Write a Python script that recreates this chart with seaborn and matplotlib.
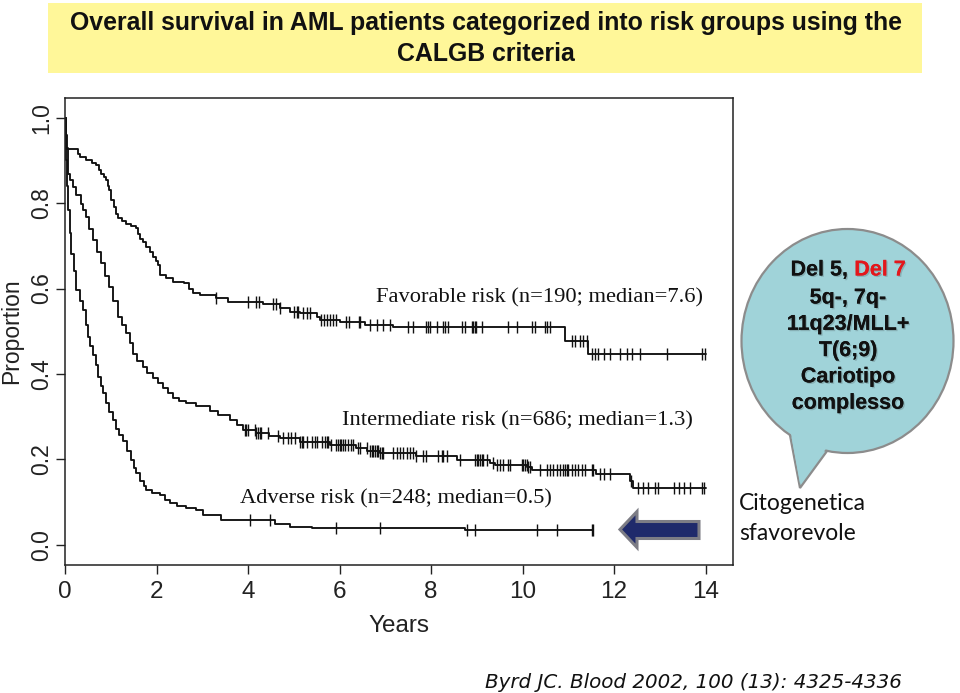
import numpy as np
import pandas as pd
import matplotlib
matplotlib.use("Agg")
import matplotlib.pyplot as plt
import seaborn as sns
from matplotlib.patches import Polygon, Ellipse, Rectangle
import matplotlib.patheffects as pe

# ---------------- data ----------------
fav_time = [0, 0.02, 0.04, 0.28, 0.32, 0.46, 0.60, 0.68, 0.74, 0.79, 0.85, 0.90, 0.94, 0.97,
            1.01, 1.08, 1.12, 1.16, 1.25, 1.34, 1.45, 1.56, 1.60, 1.63, 1.70, 1.78, 1.85, 1.92,
            1.98, 2.03, 2.07, 2.21, 2.36, 2.60, 2.72, 2.80, 2.94, 3.31, 3.56, 4.33, 4.69, 4.91,
            5.13, 5.50, 5.57, 6.00, 6.55, 7.17, 10.93, 11.44, 14.00]
fav_surv = [1.0, 0.96, 0.926, 0.915, 0.908, 0.90, 0.893, 0.889, 0.878, 0.869, 0.86, 0.854, 0.84, 0.83,
            0.807, 0.791, 0.775, 0.764, 0.758, 0.752, 0.747, 0.741, 0.728, 0.717, 0.708, 0.698, 0.686, 0.674,
            0.664, 0.655, 0.632, 0.624, 0.616, 0.612, 0.600, 0.590, 0.585, 0.577, 0.569, 0.564, 0.554, 0.546,
            0.542, 0.534, 0.526, 0.522, 0.515, 0.510, 0.478, 0.448, 0.448]
fav_censor = [3.31, 3.99, 4.18, 4.25, 4.54, 4.62, 4.69, 5.00, 5.07, 5.10, 5.20, 5.28, 5.35, 5.60, 5.66,
              5.72, 5.80, 5.86, 5.93, 6.14, 6.21, 6.43, 6.45, 6.66, 6.81, 6.95, 7.10, 7.50, 7.61, 7.90,
              7.94, 7.97, 8.12, 8.27, 8.30, 8.37, 8.67, 8.74, 8.89, 8.92, 8.96, 8.99, 9.11, 9.69, 9.87,
              10.20, 10.27, 10.49, 10.53, 10.60, 11.08, 11.15, 11.26, 11.33, 11.40, 11.51, 11.59, 11.66,
              11.77, 11.91, 12.13, 12.28, 12.39, 12.57, 13.16, 13.92, 13.99]

int_time = [0, 0.03, 0.06, 0.10, 0.17, 0.25, 0.35, 0.40, 0.46, 0.53, 0.61, 0.70, 0.79, 0.88, 0.97,
            1.06, 1.16, 1.25, 1.34, 1.41, 1.48, 1.58, 1.70, 1.80, 1.92, 2.03, 2.14, 2.25, 2.36, 2.50,
            2.65, 2.87, 3.16, 3.35, 3.60, 3.75, 3.89, 4.18, 4.45, 4.69, 5.13, 5.79, 6.37, 6.60, 6.88,
            7.68, 8.56, 9.29, 9.40, 10.10, 10.20, 11.60, 12.35, 12.42, 14.00]
int_surv = [1.0, 0.93, 0.869, 0.855, 0.838, 0.82, 0.799, 0.785, 0.768, 0.74, 0.713, 0.685, 0.659, 0.63, 0.604,
            0.57, 0.534, 0.515, 0.495, 0.472, 0.448, 0.43, 0.417, 0.403, 0.39, 0.378, 0.367, 0.355, 0.343, 0.336,
            0.331, 0.324, 0.314, 0.303, 0.292, 0.28, 0.269, 0.261, 0.255, 0.25, 0.242, 0.234, 0.226, 0.22, 0.214,
            0.207, 0.199, 0.191, 0.187, 0.182, 0.176, 0.166, 0.149, 0.133, 0.133]
int_censor = [3.93, 3.96, 4.00, 4.15, 4.18, 4.22, 4.26, 4.29, 4.44, 4.66, 4.77, 4.88, 4.95, 5.02, 5.13,
              5.17, 5.20, 5.28, 5.39, 5.46, 5.50, 5.61, 5.68, 5.72, 5.75, 5.82, 5.93, 5.97, 6.01, 6.04,
              6.08, 6.12, 6.19, 6.26, 6.30, 6.41, 6.44, 6.59, 6.66, 6.70, 6.74, 6.77, 6.81, 6.84, 6.88,
              6.92, 6.95, 7.17, 7.25, 7.32, 7.39, 7.47, 7.54, 7.61, 7.68, 7.83, 7.90, 8.16, 8.23, 8.27,
              8.34, 8.63, 8.96, 9.00, 9.03, 9.07, 9.11, 9.14, 9.22, 9.36, 9.44, 9.51, 9.58, 9.69, 9.73,
              9.98, 10.02, 10.05, 10.09, 10.13, 10.16, 10.38, 10.53, 10.60, 10.67, 10.75, 10.82, 10.89,
              10.93, 10.97, 11.00, 11.08, 11.15, 11.22, 11.30, 11.37, 11.51, 11.55, 11.70, 11.77, 11.91,
              12.38, 12.53, 12.64, 12.75, 12.90, 12.97, 13.30, 13.41, 13.52, 13.67, 13.92, 13.96]

adv_time = [0, 0.02, 0.04, 0.06, 0.10, 0.14, 0.20, 0.25, 0.32, 0.39, 0.45, 0.50, 0.55, 0.61, 0.67,
            0.72, 0.78, 0.83, 0.90, 0.97, 1.05, 1.12, 1.19, 1.26, 1.35, 1.45, 1.50, 1.56, 1.65, 1.72,
            1.78, 1.90, 2.07, 2.18, 2.29, 2.45, 2.65, 2.87, 3.02, 3.42, 4.60, 4.91, 5.39, 8.74, 11.55]
adv_surv = [1.0, 0.90, 0.84, 0.784, 0.73, 0.682, 0.64, 0.596, 0.57, 0.55, 0.515, 0.487, 0.465, 0.445, 0.42,
            0.394, 0.372, 0.355, 0.331, 0.31, 0.292, 0.272, 0.257, 0.243, 0.22, 0.199, 0.18, 0.168, 0.15, 0.138,
            0.129, 0.122, 0.117, 0.106, 0.098, 0.092, 0.086, 0.082, 0.069, 0.058, 0.05, 0.043, 0.04, 0.035, 0.035]
adv_censor = [4.04, 4.48, 5.93, 6.88, 8.78, 8.96, 10.31, 10.75, 11.51, 11.55]

group_labels = ["Favorable risk (n=190; median=7.6)",
                "Intermediate risk (n=686; median=1.3)",
                "Adverse risk (n=248; median=0.5)"]
x_ticks = [0, 2, 4, 6, 8, 10, 12, 14]
y_ticks = [0.0, 0.2, 0.4, 0.6, 0.8, 1.0]

title_lines = ["Overall survival in AML patients categorized into risk groups using the",
               "CALGB criteria"]
bubble_lines = ["5q-, 7q-", "11q23/MLL+", "T(6;9)", "Cariotipo", "complesso"]
side_lines = ["Citogenetica", "sfavorevole"]
citation = "Byrd JC. Blood 2002, 100 (13): 4325-4336"

# ---------------- figure ----------------
sns.set_theme(style="ticks")
plt.rcParams["font.family"] = ["Liberation Sans", "DejaVu Sans"]

fig = plt.figure(figsize=(9.6, 6.93), dpi=100)
ax = fig.add_axes([65 / 960, 1 - 565 / 693, (733 - 65) / 960, (565 - 98) / 693])
ax.set_facecolor("white")

curves = [(fav_time, fav_surv, fav_censor),
          (int_time, int_surv, int_censor),
          (adv_time, adv_surv, adv_censor)]

for (t, s, c), lab in zip(curves, group_labels):
    df = pd.DataFrame({"time": t, "surv": s})
    sns.lineplot(data=df, x="time", y="surv", ax=ax, color="#111111", linewidth=1.35,
                 drawstyle="steps-post", estimator=None, sort=False)
    t_arr = np.asarray(t)
    s_arr = np.asarray(s)
    idx = np.searchsorted(t_arr, np.asarray(c), side="right") - 1
    cdf = pd.DataFrame({"time": c, "surv": s_arr[idx]})
    sns.scatterplot(data=cdf, x="time", y="surv", ax=ax, marker="|", s=70,
                    color="#111111", linewidth=1.0, zorder=3)

# curve annotations
serif = ["Liberation Serif", "DejaVu Serif"]
ax.text(6.79, 0.578, group_labels[0], family=serif, fontsize=16.2, ha="left", va="center", color="#111")
ax.text(6.05, 0.290, group_labels[1], family=serif, fontsize=16.2, ha="left", va="center", color="#111")
ax.text(3.82, 0.108, group_labels[2], family=serif, fontsize=16.2, ha="left", va="center", color="#111")

ax.set_xlim(0, 14.6)
ax.set_ylim(-0.047, 1.046)
ax.set_xticks(x_ticks)
ax.set_xticklabels([str(v) for v in x_ticks], fontsize=17.5, color="#222")
ax.set_yticks(y_ticks)
ax.set_yticklabels([f"{v:.1f}" for v in y_ticks], rotation=90, va="center",
                   fontsize=16.5, color="#222")
ax.tick_params(axis="both", direction="out", length=6.5, width=1.0, color="#222")
ax.tick_params(axis="x", pad=5)
ax.tick_params(axis="y", pad=2)
ax.set_xlabel("Years", fontsize=17.5, color="#222", labelpad=9)
ax.set_ylabel("Proportion", fontsize=16.5, color="#222", labelpad=5)
for sp in ax.spines.values():
    sp.set_visible(True)
    sp.set_color("#222")
    sp.set_linewidth(1.1)

# ---------------- overlay (pixel coordinates) ----------------
ov = fig.add_axes([0, 0, 1, 1], zorder=5)
ov.set_xlim(0, 960)
ov.set_ylim(693, 0)
ov.axis("off")
ov.patch.set_alpha(0)

ov.add_patch(Rectangle((48, 3), 874, 70, facecolor="#FFF799", edgecolor="none", zorder=1))
ov.text(486, 23, title_lines[0], ha="center", va="center", fontsize=17.9, fontweight="bold", color="#111")
ov.text(486, 54, title_lines[1], ha="center", va="center", fontsize=17.9, fontweight="bold", color="#111")

# speech bubble
bub_fc = "#A0D3D9"
bub_ec = "#8C8C8C"
tail = [(789, 430), (800, 488), (830, 447), (812, 420)]
ov.add_patch(Polygon(tail, closed=True, facecolor=bub_fc, edgecolor=bub_ec, lw=1.6, zorder=2))
ov.add_patch(Ellipse((847.5, 341), 212, 224, facecolor=bub_fc, edgecolor=bub_ec, lw=1.6, zorder=3))
ov.add_patch(Polygon([(790.5, 431), (800, 484), (828, 446), (812, 420)], closed=True,
                     facecolor=bub_fc, edgecolor="none", zorder=4))

shadow = [pe.withSimplePatchShadow(offset=(1.0, -1.0), shadow_rgbFace="#6f8f93", alpha=0.5), pe.Normal()]
t1 = ov.text(848, 270, "Del 5,", ha="right", va="center", fontsize=15.5, fontweight="bold",
             color="#111", zorder=6, path_effects=shadow)
ov.annotate("Del 7", xy=(1, 0), xycoords=t1, xytext=(4.5, 0), textcoords="offset points",
            ha="left", va="bottom", fontsize=15.5, fontweight="bold", color="#E3171C", zorder=6,
            path_effects=shadow)
for i, line in enumerate(bubble_lines):
    ov.text(848, 298 + i * 26.3, line, ha="center", va="center", fontsize=15.5, fontweight="bold",
            color="#111", zorder=6, path_effects=shadow)

ov.text(739, 504, side_lines[0], ha="left", va="center", fontsize=16.5, family=["Lato", "DejaVu Sans"],
        color="#111")
ov.text(739, 534, side_lines[1], ha="left", va="center", fontsize=16.5, family=["Lato", "DejaVu Sans"],
        color="#111")

# arrow
arrow = [(620, 529.5), (637, 511.5), (637, 521.5), (699, 521.5), (699, 538.5), (637, 538.5), (637, 547.5)]
ov.add_patch(Polygon(arrow, closed=True, facecolor="#1F2A6B", edgecolor="#7d7d85", lw=2.2, zorder=2))

ov.text(485, 683, citation, ha="left", va="center", fontsize=14.3, style="italic",
        family=["DejaVu Sans"], color="#111")

fig.savefig("out.png", dpi=100, facecolor="white")
